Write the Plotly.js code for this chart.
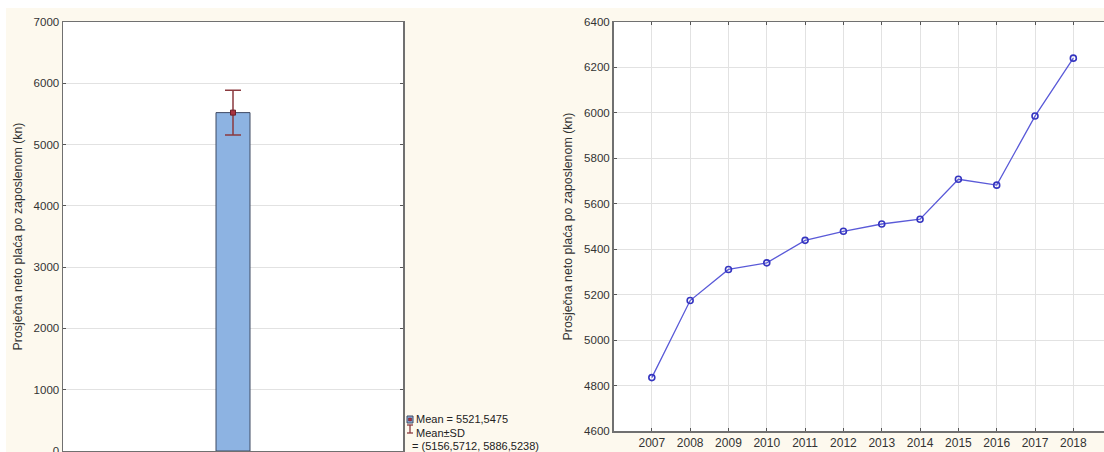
<!DOCTYPE html>
<html>
<head>
<meta charset="utf-8">
<script src="https://cdn.plot.ly/plotly-3.0.1.min.js"></script>
<style>
  html, body { margin: 0; padding: 0; background: #ffffff; }
  #bg { position: absolute; left: 6px; top: 8px; width: 1098px; height: 444px; background: #fdf9ee; }
  #chart { position: absolute; left: 0; top: 0; width: 1104px; height: 452px; }
</style>
</head>
<body>
<div id="bg"></div>
<div id="chart"></div>
<script>
// ---- data ----
const meanValue = 5521.5475;
const sdLower = 5156.5712;
const sdUpper = 5886.5238;
const years = [2007, 2008, 2009, 2010, 2011, 2012, 2013, 2014, 2015, 2016, 2017, 2018];
const salaries = [4835, 5174, 5311, 5340, 5439, 5479, 5511, 5532, 5708, 5682, 5986, 6241];
const yTitle = "Prosječna neto plaća po zaposlenom (kn)";

// ---- helpers ----
const W = 1104, H = 452;
const px = v => v / W;
const py = v => 1 - v / H;
const fmt = v => v.toFixed(4).replace('.', ',');

const frameColor = '#707070';
const gridColor = '#e2e2e2';
const tickFont = {family: 'Arial, "Liberation Sans", sans-serif', size: 11.5, color: '#333333'};
const titleFont = {family: 'Arial, "Liberation Sans", sans-serif', size: 12.4, color: '#333333'};
const errColor = '#8b3a3f';

const traces = [
  {
    type: 'bar', x: [0], y: [meanValue], width: [0.1],
    xaxis: 'x', yaxis: 'y',
    marker: {color: '#8db3e2', line: {color: '#3f4a63', width: 1}},
    error_y: {type: 'data', symmetric: false, array: [sdUpper - meanValue], arrayminus: [meanValue - sdLower],
              color: errColor, thickness: 1.5, width: 8},
    hoverinfo: 'skip', showlegend: false
  },
  {
    type: 'scatter', mode: 'markers', x: [0], y: [meanValue],
    xaxis: 'x', yaxis: 'y',
    marker: {symbol: 'square', size: 5, color: '#a8323f', line: {color: '#6b1f2a', width: 1}},
    showlegend: false
  },
  {
    type: 'scatter', mode: 'lines+markers', x: years, y: salaries,
    xaxis: 'x2', yaxis: 'y2',
    line: {color: '#5a5ad8', width: 1.3},
    marker: {symbol: 'circle-open', size: 6, color: '#3535c0', line: {width: 1.6, color: '#3535c0'}},
    showlegend: false
  }
];

const legendText = [
  {t: 'Mean = ' + fmt(meanValue), x: 414, y: 419},
  {t: 'Mean±SD', x: 414, y: 433},
  {t: '= (' + fmt(sdLower) + ', ' + fmt(sdUpper) + ')', x: 410, y: 446}
];

const annotations = legendText.map(o => ({
  xref: 'paper', yref: 'paper', x: px(o.x), y: py(o.y), xanchor: 'left', yanchor: 'middle',
  text: o.t, showarrow: false,
  font: {family: 'Arial, "Liberation Sans", sans-serif', size: 11, color: '#222222'}
}));

const shapes = [
  // legend icon: bar with mean marker
  {type: 'rect', xref: 'paper', yref: 'paper', x0: px(407), x1: px(413), y0: py(416), y1: py(423),
   fillcolor: '#8db3e2', line: {color: '#3f4a63', width: 1}},
  {type: 'rect', xref: 'paper', yref: 'paper', x0: px(408.5), x1: px(411.5), y0: py(418), y1: py(421),
   fillcolor: '#a8323f', line: {color: '#6b1f2a', width: 0.5}},
  // legend icon: error bar
  {type: 'line', xref: 'paper', yref: 'paper', x0: px(410), x1: px(410), y0: py(425), y1: py(433),
   line: {color: errColor, width: 1.3}},
  {type: 'line', xref: 'paper', yref: 'paper', x0: px(407), x1: px(413), y0: py(425), y1: py(425),
   line: {color: errColor, width: 1.3}},
  {type: 'line', xref: 'paper', yref: 'paper', x0: px(407), x1: px(413), y0: py(433), y1: py(433),
   line: {color: errColor, width: 1.3}}
];

const layout = {
  width: W, height: H,
  margin: {l: 0, r: 0, t: 0, b: 0, pad: 0},
  paper_bgcolor: 'rgba(0,0,0,0)',
  plot_bgcolor: '#ffffff',
  showlegend: false,
  xaxis: {
    domain: [px(63), px(403)], anchor: 'y',
    range: [-0.5, 0.5], showticklabels: false, ticks: '', showgrid: false, zeroline: false,
    showline: true, linecolor: frameColor, linewidth: 1.5, mirror: true, fixedrange: true
  },
  yaxis: {
    domain: [py(451), py(22)], anchor: 'x',
    range: [0, 7000], dtick: 1000, tick0: 0,
    showgrid: true, gridcolor: gridColor, gridwidth: 1, zeroline: false,
    showline: true, linecolor: frameColor, linewidth: 1.5, mirror: 'ticks',
    ticks: 'inside', ticklen: 3, tickcolor: '#555555', tickfont: tickFont,
    ticklabeloverflow: 'allow',
    title: {text: yTitle, font: titleFont, standoff: 8}
  },
  xaxis2: {
    domain: [px(613.5), 1], anchor: 'y2',
    range: [2006, 2018.8], tickvals: years, ticktext: years.map(String),
    showgrid: true, gridcolor: gridColor, gridwidth: 1, zeroline: false,
    showline: true, linecolor: frameColor, linewidth: 1.5, mirror: 'ticks',
    ticks: 'inside', ticklen: 3, tickcolor: '#555555',
    tickfont: {family: 'Arial, "Liberation Sans", sans-serif', size: 12, color: '#333333'}
  },
  yaxis2: {
    domain: [py(431), py(22)], anchor: 'x2',
    range: [4600, 6400], dtick: 200, tick0: 4600,
    showgrid: true, gridcolor: gridColor, gridwidth: 1, zeroline: false,
    showline: true, linecolor: frameColor, linewidth: 1.5, mirror: false,
    ticks: 'inside', ticklen: 3, tickcolor: '#555555', tickfont: tickFont,
    title: {text: yTitle, font: titleFont, standoff: 9}
  },
  annotations: annotations,
  shapes: shapes
};

Plotly.newPlot('chart', traces, layout, {displayModeBar: false, staticPlot: true});
</script>
</body>
</html>
